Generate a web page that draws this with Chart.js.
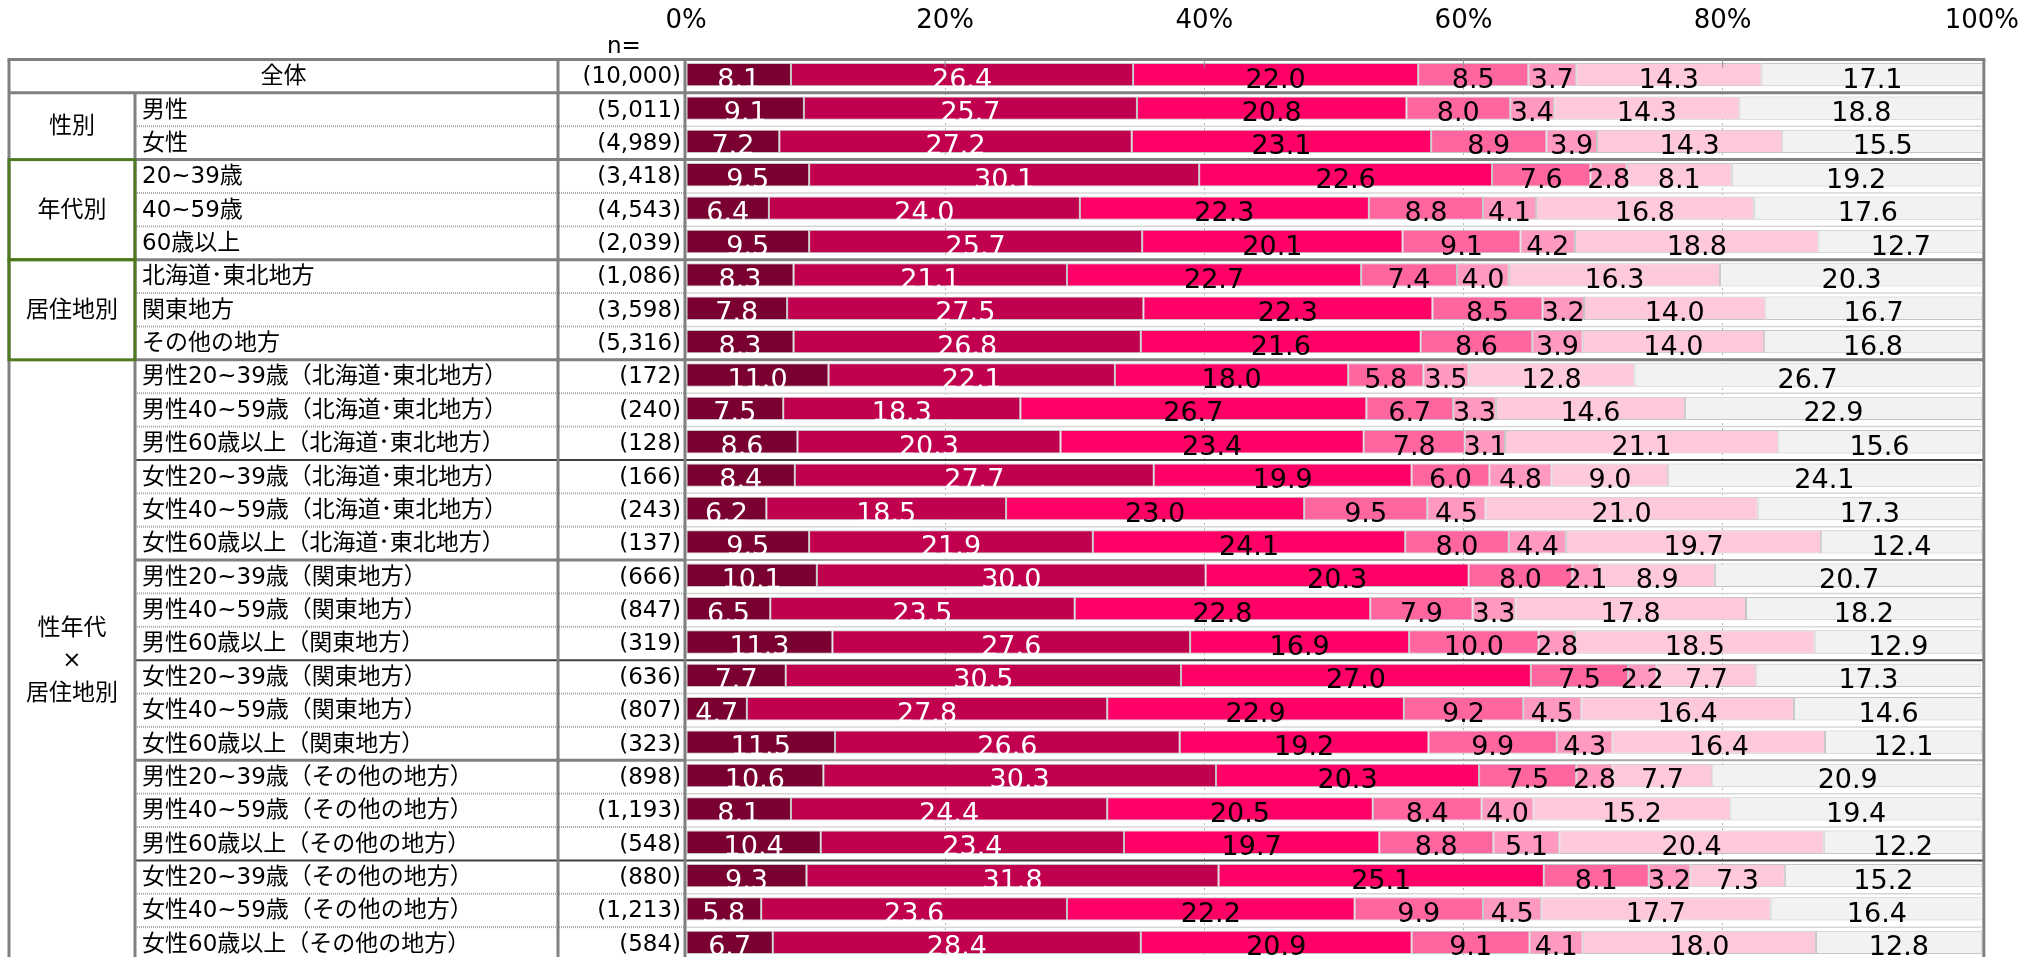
<!DOCTYPE html>
<html lang="ja">
<head>
<meta charset="utf-8">
<script src="https://cdn.jsdelivr.net/npm/chart.js@4.4.1/dist/chart.umd.min.js"></script>
<style>
  html, body { margin: 0; padding: 0; background: #fff; overflow: hidden; }
  #contenedor { width: 2040px; height: 957px; overflow: hidden; }
</style>
</head>
<body>
<div id="contenedor"><canvas id="grafica" width="2040" height="1000"></canvas></div>
<script>
// =========================
//   Datos
// =========================
const categorias = [
    "全体", "男性", "女性", "20~39歳", "40~59歳", "60歳以上",
    "北海道･東北地方", "関東地方", "その他の地方",
    "男性20~39歳（北海道･東北地方）", "男性40~59歳（北海道･東北地方）", "男性60歳以上（北海道･東北地方）",
    "女性20~39歳（北海道･東北地方）", "女性40~59歳（北海道･東北地方）", "女性60歳以上（北海道･東北地方）",
    "男性20~39歳（関東地方）", "男性40~59歳（関東地方）", "男性60歳以上（関東地方）",
    "女性20~39歳（関東地方）", "女性40~59歳（関東地方）", "女性60歳以上（関東地方）",
    "男性20~39歳（その他の地方）", "男性40~59歳（その他の地方）", "男性60歳以上（その他の地方）",
    "女性20~39歳（その他の地方）", "女性40~59歳（その他の地方）", "女性60歳以上（その他の地方）"
];

const muestras = [
    "10,000", "5,011", "4,989", "3,418", "4,543", "2,039", "1,086", "3,598", "5,316",
    "172", "240", "128", "166", "243", "137", "666", "847", "319",
    "636", "807", "323", "898", "1,193", "548", "880", "1,213", "584"
];

const serie1 = [8.1, 9.1, 7.2, 9.5, 6.4, 9.5, 8.3, 7.8, 8.3, 11.0, 7.5, 8.6, 8.4, 6.2, 9.5, 10.1, 6.5, 11.3, 7.7, 4.7, 11.5, 10.6, 8.1, 10.4, 9.3, 5.8, 6.7];
const serie2 = [26.4, 25.7, 27.2, 30.1, 24.0, 25.7, 21.1, 27.5, 26.8, 22.1, 18.3, 20.3, 27.7, 18.5, 21.9, 30.0, 23.5, 27.6, 30.5, 27.8, 26.6, 30.3, 24.4, 23.4, 31.8, 23.6, 28.4];
const serie3 = [22.0, 20.8, 23.1, 22.6, 22.3, 20.1, 22.7, 22.3, 21.6, 18.0, 26.7, 23.4, 19.9, 23.0, 24.1, 20.3, 22.8, 16.9, 27.0, 22.9, 19.2, 20.3, 20.5, 19.7, 25.1, 22.2, 20.9];
const serie4 = [8.5, 8.0, 8.9, 7.6, 8.8, 9.1, 7.4, 8.5, 8.6, 5.8, 6.7, 7.8, 6.0, 9.5, 8.0, 8.0, 7.9, 10.0, 7.5, 9.2, 9.9, 7.5, 8.4, 8.8, 8.1, 9.9, 9.1];
const serie5 = [3.7, 3.4, 3.9, 2.8, 4.1, 4.2, 4.0, 3.2, 3.9, 3.5, 3.3, 3.1, 4.8, 4.5, 4.4, 2.1, 3.3, 2.8, 2.2, 4.5, 4.3, 2.8, 4.0, 5.1, 3.2, 4.5, 4.1];
const serie6 = [14.3, 14.3, 14.3, 8.1, 16.8, 18.8, 16.3, 14.0, 14.0, 12.8, 14.6, 21.1, 9.0, 21.0, 19.7, 8.9, 17.8, 18.5, 7.7, 16.4, 16.4, 7.7, 15.2, 20.4, 7.3, 17.7, 18.0];
const serie7 = [17.1, 18.8, 15.5, 19.2, 17.6, 12.7, 20.3, 16.7, 16.8, 26.7, 22.9, 15.6, 24.1, 17.3, 12.4, 20.7, 18.2, 12.9, 17.3, 14.6, 12.1, 20.9, 19.4, 12.2, 15.2, 16.4, 12.8];

const etiquetasEje = ["0%", "20%", "40%", "60%", "80%", "100%"];

// grupos de la primera columna
const grupos = [
    { texto: ["性別"], desde: 1, hasta: 2, verde: false },
    { texto: ["年代別"], desde: 3, hasta: 5, verde: true },
    { texto: ["居住地別"], desde: 6, hasta: 8, verde: true },
    { texto: ["性年代", "×", "居住地別"], desde: 9, hasta: 26, verde: false }
];
const lineasNegras = [12, 18, 24];
const lineasGrises = [1, 3, 6, 9];
const lineasGrisesSuaves = [15, 21];

// =========================
//   Estilos
// =========================
const coloresSerie = ["#7a0032", "#c0004f", "#ff0066", "#ff66a0", "#ff99bf", "#ffc9dc", "#f2f2f2"];
const coloresTexto = ["#fff", "#fff", "#000", "#000", "#000", "#000", "#000"];
const GRIS = "#808080";
const VERDE = "#4f7a1f";
const FUENTE = '"DejaVu Sans", "Noto Sans CJK JP", sans-serif';
const X_IZQ = 9, X_GRUPO = 135, X_ETIQ = 558;

const series = [serie1, serie2, serie3, serie4, serie5, serie6, serie7];

// =========================
//   Plugins
// =========================
const etiquetasBarras = {
    id: "etiquetasBarras",
    afterDatasetsDraw(chart) {
        const ctx = chart.ctx;
        ctx.save();
        ctx.font = "27px " + FUENTE;
        ctx.textAlign = "center";
        ctx.textBaseline = "alphabetic";
        chart.data.datasets.forEach((ds, i) => {
            const meta = chart.getDatasetMeta(i);
            ctx.fillStyle = coloresTexto[i];
            meta.data.forEach((barra, j) => {
                const cx = (barra.x + barra.base) / 2;
                ctx.fillText(ds.data[j].toFixed(1), cx, barra.y + 13);
            });
        });
        ctx.restore();
    }
};

function linea(ctx, x1, y1, x2, y2, color, ancho, guiones) {
    ctx.save();
    ctx.strokeStyle = color;
    ctx.lineWidth = ancho;
    ctx.setLineDash(guiones || []);
    ctx.beginPath();
    ctx.moveTo(x1, y1);
    ctx.lineTo(x2, y2);
    ctx.stroke();
    ctx.restore();
}

const tabla = {
    id: "tabla",
    afterDraw(chart) {
        const ctx = chart.ctx;
        const area = chart.chartArea;
        const ejeX = chart.scales.x;
        const paso = (area.bottom - area.top) / categorias.length;
        const borde = k => area.top + 1.5 + k * paso;
        const centro = k => borde(k) + paso / 2;
        const xN = area.left - 1;
        const xDer = area.right + 2;
        const total = categorias.length;

        // lineas horizontales
        for (let k = 1; k < total; k++) {
            const y = borde(k);
            if (lineasGrises.includes(k)) {
                linea(ctx, k === 1 ? X_IZQ : X_GRUPO, y, xDer, y, GRIS, 3);
            } else if (lineasGrisesSuaves.includes(k)) {
                linea(ctx, X_GRUPO, y, xN, y, GRIS, 3);
                linea(ctx, area.left, y, xDer, y, "#a6a6a6", 2);
            } else if (lineasNegras.includes(k)) {
                linea(ctx, X_GRUPO, y, xDer, y, "#404040", 2);
            } else {
                linea(ctx, X_GRUPO, y, xN, y, "#a8a8a8", 2, [1, 1]);
                linea(ctx, area.left, y, area.right, y, "#d6d6d6", 1.5);
            }
        }
        linea(ctx, X_IZQ - 1.5, borde(0), xDer + 1.5, borde(0), GRIS, 3);

        // lineas verticales
        linea(ctx, X_IZQ, borde(0), X_IZQ, borde(total), GRIS, 3);
        linea(ctx, X_GRUPO, borde(1), X_GRUPO, borde(total), GRIS, 3);
        linea(ctx, X_ETIQ, borde(0), X_ETIQ, borde(total), GRIS, 3);
        linea(ctx, xN, borde(0), xN, borde(total), GRIS, 3);
        linea(ctx, xDer, borde(0), xDer, borde(total), GRIS, 3);

        // marcas cortas arriba
        [20, 40, 60, 80].forEach(v => {
            const x = ejeX.getPixelForValue(v);
            linea(ctx, x, borde(0), x, borde(0) + 8, "#909090", 1);
        });

        // bordes verdes
        grupos.filter(g => g.verde).forEach(g => {
            const y1 = borde(g.desde), y2 = borde(g.hasta + 1);
            ctx.save();
            ctx.strokeStyle = VERDE;
            ctx.lineWidth = 3;
            ctx.strokeRect(X_IZQ, y1, X_GRUPO - X_IZQ, y2 - y1);
            ctx.restore();
        });

        // textos
        ctx.save();
        ctx.fillStyle = "#000";
        ctx.font = "23px " + FUENTE;
        ctx.textBaseline = "middle";

        ctx.textAlign = "left";
        ctx.fillText("n=", 607, 47);

        ctx.textAlign = "center";
        ctx.fillText(categorias[0], (X_IZQ + X_ETIQ) / 2, centro(0) + 1);

        grupos.forEach(g => {
            const yc = (borde(g.desde) + borde(g.hasta + 1)) / 2;
            const n = g.texto.length;
            g.texto.forEach((t, i) => {
                ctx.fillText(t, (X_IZQ + X_GRUPO) / 2, yc + (i - (n - 1) / 2) * 32.5 + 1);
            });
        });

        ctx.textAlign = "left";
        for (let k = 1; k < total; k++) {
            ctx.fillText(categorias[k], 142, centro(k) + 1);
        }
        ctx.textAlign = "right";
        for (let k = 0; k < total; k++) {
            ctx.fillText("(" + muestras[k] + ")", 681, centro(k) + 1);
        }
        ctx.restore();
    }
};

// =========================
//   Gráfica
// =========================
const ctxGrafica = document.getElementById("grafica");

new Chart(ctxGrafica, {
    type: "bar",
    data: {
        labels: categorias,
        datasets: series.map((datos, i) => ({
            data: datos,
            backgroundColor: coloresSerie[i],
            borderColor: "#c4c4c4",
            borderWidth: 1,
            borderSkipped: false,
            barPercentage: 0.7,
            categoryPercentage: 1.0
        }))
    },
    options: {
        indexAxis: "y",
        responsive: false,
        animation: false,
        devicePixelRatio: 1,
        layout: { padding: { left: 686, right: 42, top: 0, bottom: 41 } },
        plugins: { legend: { display: false }, tooltip: { enabled: false } },
        scales: {
            x: {
                stacked: true,
                position: "top",
                min: 0,
                max: 100,
                ticks: {
                    stepSize: 20,
                    autoSkip: false,
                    maxRotation: 0,
                    padding: 21,
                    color: "#000",
                    font: { family: "DejaVu Sans", size: 26 },
                    callback: (v, i) => etiquetasEje[i]
                },
                grid: {
                    drawTicks: false,
                    lineWidth: 1,
                    color: c => (c.tick && (c.tick.value === 0 || c.tick.value === 100)) ? "rgba(0,0,0,0)" : "#b8b8b8"
                },
                border: { display: false, dash: [2, 3] },
                afterFit: s => { s.height = 58; }
            },
            y: {
                stacked: true,
                display: false
            }
        }
    },
    plugins: [etiquetasBarras, tabla]
});
</script>
</body>
</html>
